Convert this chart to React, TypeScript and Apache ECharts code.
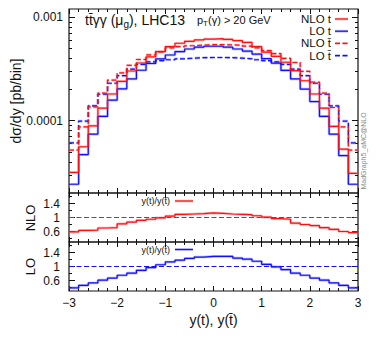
import { useEffect, useRef } from 'react';
import * as echarts from 'echarts';

// ---------- data ----------
const binEdges = [-3, -2.8, -2.6, -2.4, -2.2, -2, -1.8, -1.6, -1.4, -1.2, -1, -0.8, -0.6, -0.4, -0.2, 0,
  0.2, 0.4, 0.6, 0.8, 1, 1.2, 1.4, 1.6, 1.8, 2, 2.2, 2.4, 2.6, 2.8, 3];

const nloT = [3.16e-5, 5.6e-5, 8.9e-5, 1.32e-4, 1.81e-4, 2.4e-4, 3.02e-4, 3.61e-4, 4.13e-4, 4.65e-4,
  5.2e-4, 5.6e-4, 5.85e-4, 6.03e-4, 6.15e-4, 6.2e-4, 6.1e-4, 5.95e-4, 5.7e-4, 5.2e-4,
  4.6e-4, 4.19e-4, 3.67e-4, 3.04e-4, 2.43e-4, 1.81e-4, 1.32e-4, 8.8e-5, 5.3e-5, 3.1e-5];

const loT = [2.43e-5, 4.7e-5, 7.4e-5, 1.1e-4, 1.58e-4, 2.03e-4, 2.53e-4, 3.07e-4, 3.57e-4, 3.95e-4,
  4.31e-4, 4.65e-4, 4.93e-4, 5.13e-4, 5.24e-4, 5.24e-4, 5.13e-4, 4.93e-4, 4.7e-4, 4.4e-4,
  3.97e-4, 3.6e-4, 3.06e-4, 2.53e-4, 2.02e-4, 1.53e-4, 1.1e-4, 7.4e-5, 4.6e-5, 2.43e-5];

const nloTbar = [5.2e-5, 8.7e-5, 1.36e-4, 1.85e-4, 2.47e-4, 2.9e-4, 3.43e-4, 3.9e-4, 4.33e-4, 4.62e-4,
  5.05e-4, 5.2e-4, 5.3e-4, 5.38e-4, 5.42e-4, 5.42e-4, 5.4e-4, 5.35e-4, 5.25e-4, 5.05e-4,
  4.75e-4, 4.45e-4, 4.0e-4, 3.65e-4, 3.0e-4, 2.36e-4, 1.85e-4, 1.34e-4, 8.7e-5, 5.2e-5];

const loTbar = [6.1e-5, 9.9e-5, 1.39e-4, 1.8e-4, 2.3e-4, 2.72e-4, 3.15e-4, 3.5e-4, 3.7e-4, 3.8e-4,
  3.88e-4, 3.96e-4, 4.02e-4, 4.06e-4, 4.08e-4, 4.08e-4, 4.06e-4, 4.02e-4, 3.96e-4, 3.88e-4,
  3.8e-4, 3.7e-4, 3.5e-4, 3.15e-4, 2.72e-4, 2.3e-4, 1.8e-4, 1.39e-4, 9.9e-5, 6.1e-5];

const ratioNLO = [0.59, 0.63, 0.64, 0.70, 0.71, 0.82, 0.87, 0.92, 0.95, 0.99,
  1.04, 1.09, 1.10, 1.11, 1.13, 1.12, 1.10, 1.09, 1.08, 1.05,
  1.01, 0.97, 0.95, 0.84, 0.80, 0.77, 0.71, 0.66, 0.60, 0.57];

const ratioLO = [0.39, 0.46, 0.53, 0.61, 0.67, 0.75, 0.81, 0.89, 0.97, 1.05,
  1.13, 1.18, 1.23, 1.27, 1.29, 1.29, 1.29, 1.24, 1.21, 1.15,
  1.06, 0.99, 0.91, 0.81, 0.75, 0.67, 0.61, 0.53, 0.46, 0.39];

const ratioReference = 1;

const xRange = [-3, 3];
const topRange = [2e-5, 1.2e-3];
const topMajorTicks = [0.0001, 0.001];
const topTickLabels = ['0.0001', '0.001'];
const topMinorTicks = [3e-5, 4e-5, 5e-5, 6e-5, 7e-5, 8e-5, 9e-5, 2e-4, 3e-4, 4e-4, 5e-4, 6e-4, 7e-4, 8e-4, 9e-4];
const ratioRange = [0.3, 1.7];
const ratioMajorTicks = [0.6, 1, 1.4];
const ratioTickLabels = ['0.6', '1', '1.4'];
const ratioMinorTicks = [0.4, 0.8, 1.2, 1.6];

// ---------- styling ----------
const FONT = '"Liberation Sans", Arial, Helvetica, sans-serif';
const INK = '#111';
const RED = '#ff1010';
const BLUE = '#1010ff';
const RED_PALE = 'rgba(255,110,110,0.5)';
const BLUE_PALE = 'rgba(110,110,255,0.5)';
const DASH = [5, 2.5];

const log10 = (v: number) => Math.log10(v);
const ident = (v: number) => v;

function steps(values: number[], tf: (v: number) => number = ident) {
  return binEdges.map((e, i) => [e, tf(values[Math.min(i, values.length - 1)])]);
}

const gridBox = [
  { left: 69, top: 9, width: 289, height: 184 },
  { left: 69, top: 193, width: 289, height: 49 },
  { left: 69, top: 242, width: 289, height: 49 },
];

const tickLine = { color: INK, width: 1 };

function xAxesFor(gi: number) {
  return ['bottom', 'top'].map((pos) => ({
    type: 'value',
    gridIndex: gi,
    position: pos,
    min: xRange[0],
    max: xRange[1],
    interval: 1,
    axisLine: { show: false, onZero: false },
    axisTick: { show: true, inside: true, length: 5, lineStyle: tickLine },
    minorTick: { show: true, splitNumber: 5, length: 3, lineStyle: tickLine },
    splitLine: { show: false },
    minorSplitLine: { show: false },
    axisLabel: {
      show: gi === 2 && pos === 'bottom',
      fontSize: 12,
      fontFamily: FONT,
      color: INK,
      margin: 6,
      formatter: (v: number) => (v < 0 ? '\u2212' + String(-v) : String(v)),
    },
  }));
}

function yAxesFor(
  gi: number,
  range: number[],
  major: number[],
  labels: string[],
  minor: number[],
  tf: (v: number) => number,
  margin: number,
) {
  const base = {
    type: 'value',
    gridIndex: gi,
    min: tf(range[0]),
    max: tf(range[1]),
    splitLine: { show: false },
    axisLine: { show: false, onZero: false },
  };
  const majorT = major.map(tf);
  return ['left', 'right'].flatMap((pos) => [
    {
      ...base,
      position: pos,
      axisTick: { show: true, inside: true, length: 6, customValues: majorT, lineStyle: tickLine },
      axisLabel: {
        show: pos === 'left',
        customValues: majorT,
        fontSize: 12,
        fontFamily: FONT,
        color: INK,
        margin,
        formatter: (v: number) => {
          const k = majorT.findIndex((m) => Math.abs(m - v) < 1e-6);
          return k >= 0 ? labels[k] : '';
        },
      },
    },
    {
      ...base,
      position: pos,
      axisTick: { show: true, inside: true, length: 3, customValues: minor.map(tf), lineStyle: tickLine },
      axisLabel: { show: false },
    },
  ]);
}

function histo(name: string, data: number[][], xi: number, yi: number, color: string, pale: string, dashed: boolean) {
  const common = {
    type: 'line',
    step: 'end',
    xAxisIndex: xi,
    yAxisIndex: yi,
    data,
    symbol: 'none',
    showSymbol: false,
    silent: true,
    clip: true,
  };
  return [
    { ...common, name: name + ' band', z: 1, lineStyle: { color: pale, width: 2.6, type: dashed ? DASH : 'solid' } },
    { ...common, name, z: 3, lineStyle: { color, width: 1.2, type: dashed ? DASH : 'solid' } },
  ];
}

const refLine = [[xRange[0], ratioReference], [xRange[1], ratioReference]];

const series = [
  ...histo('LO t\u0304', steps(loTbar, log10), 0, 0, BLUE, BLUE_PALE, true),
  ...histo('NLO t\u0304', steps(nloTbar, log10), 0, 0, RED, RED_PALE, true),
  ...histo('LO t', steps(loT, log10), 0, 0, BLUE, BLUE_PALE, false),
  ...histo('NLO t', steps(nloT, log10), 0, 0, RED, RED_PALE, false),
  { type: 'line', name: 'NLO ref', xAxisIndex: 2, yAxisIndex: 4, data: refLine, symbol: 'none', silent: true, z: 2,
    lineStyle: { color: RED, width: 1.2, type: DASH } },
  ...histo('NLO ratio', steps(ratioNLO), 2, 4, RED, RED_PALE, false),
  { type: 'line', name: 'LO ref', xAxisIndex: 4, yAxisIndex: 8, data: refLine, symbol: 'none', silent: true, z: 2,
    lineStyle: { color: BLUE, width: 1.2, type: DASH } },
  ...histo('LO ratio', steps(ratioLO), 4, 8, BLUE, BLUE_PALE, false),
];

// ---------- legend & annotation graphics ----------
const legendRows = [
  { label: 'NLO t', color: RED, pale: RED_PALE, dashed: false, y: 19 },
  { label: 'LO t', color: BLUE, pale: BLUE_PALE, dashed: false, y: 31.2 },
  { label: 'NLO t\u0304', color: RED, pale: RED_PALE, dashed: true, y: 43.4 },
  { label: 'LO t\u0304', color: BLUE, pale: BLUE_PALE, dashed: true, y: 55.6 },
];

function legendItem(label: string, color: string, pale: string, dashed: boolean, y: number, textRight: number, x1: number, x2: number, fontSize: number) {
  return [
    { type: 'text', x: textRight, y, silent: true,
      style: { text: label, fontSize, lineHeight: fontSize, fontFamily: FONT, fill: INK, align: 'right', verticalAlign: 'middle' } },
    { type: 'line', silent: true, shape: { x1, y1: y, x2, y2: y },
      style: { stroke: pale, lineWidth: 2.6, lineDash: dashed ? DASH : null } },
    { type: 'line', silent: true, shape: { x1, y1: y, x2, y2: y },
      style: { stroke: color, lineWidth: 1.2, lineDash: dashed ? DASH : null } },
  ];
}

const graphics: any[] = [
  ...legendRows.flatMap((r) => legendItem(r.label, r.color, r.pale, r.dashed, r.y, 331, 335, 348, 11.5)),
  ...legendItem('y(t)/y(t\u0304)', RED, RED_PALE, false, 201, 170, 175, 193, 9),
  ...legendItem('y(t)/y(t\u0304)', BLUE, BLUE_PALE, false, 249.5, 170, 175, 193, 9),
  { type: 'text', x: 85, y: 20, silent: true,
    style: {
      text: '{a|tt\u0304\u03b3\u03b3 (\u03bc}{s|g}{a|), LHC13}',
      fill: INK, verticalAlign: 'middle', align: 'left',
      rich: {
        a: { fontSize: 14, fontFamily: FONT, lineHeight: 18, fill: INK },
        s: { fontSize: 10, fontFamily: FONT, lineHeight: 10, verticalAlign: 'bottom', fill: INK },
      },
    } },
  { type: 'text', x: 197, y: 20, silent: true,
    style: {
      text: '{a|p}{s|T}{a|(\u03b3) > 20 GeV}',
      fill: INK, verticalAlign: 'middle', align: 'left',
      rich: {
        a: { fontSize: 11, fontFamily: FONT, lineHeight: 14, fill: INK },
        s: { fontSize: 8, fontFamily: FONT, lineHeight: 8, verticalAlign: 'bottom', fill: INK },
      },
    } },
  { type: 'text', x: 16, y: 101, rotation: Math.PI / 2, silent: true,
    style: { text: 'd\u03c3/dy [pb/bin]', fontSize: 14, fontFamily: FONT, fill: INK, align: 'center', verticalAlign: 'middle' } },
  { type: 'text', x: 30, y: 218, rotation: Math.PI / 2, silent: true,
    style: { text: 'NLO', fontSize: 13, fontFamily: FONT, fill: INK, align: 'center', verticalAlign: 'middle' } },
  { type: 'text', x: 30, y: 266.5, rotation: Math.PI / 2, silent: true,
    style: { text: 'LO', fontSize: 13, fontFamily: FONT, fill: INK, align: 'center', verticalAlign: 'middle' } },
  { type: 'text', x: 213.5, y: 320, silent: true,
    style: { text: 'y(t), y(t\u0304)', fontSize: 14, fontFamily: FONT, fill: INK, align: 'center', verticalAlign: 'middle' } },
  { type: 'text', x: 363, y: 151, rotation: Math.PI / 2, silent: true,
    style: { text: 'MadGraph5_aMC@NLO', fontSize: 7, fontFamily: FONT, fill: '#8a8a8a', align: 'center', verticalAlign: 'middle' } },
];

const option: any = {
  animation: false,
  backgroundColor: '#fff',
  grid: gridBox.map((g) => ({ ...g, show: true, borderColor: INK, borderWidth: 1.2, backgroundColor: 'transparent' })),
  xAxis: [...xAxesFor(0), ...xAxesFor(1), ...xAxesFor(2)],
  yAxis: [
    ...yAxesFor(0, topRange, topMajorTicks, topTickLabels, topMinorTicks, log10, 6),
    ...yAxesFor(1, ratioRange, ratioMajorTicks, ratioTickLabels, ratioMinorTicks, ident, 9),
    ...yAxesFor(2, ratioRange, ratioMajorTicks, ratioTickLabels, ratioMinorTicks, ident, 9),
  ],
  series,
  graphic: graphics,
};

export default function App() {
  const ref = useRef<HTMLDivElement>(null);
  useEffect(() => {
    const chart = echarts.init(ref.current!, undefined, { renderer: 'svg' });
    chart.setOption(option);
    return () => chart.dispose();
  }, []);
  return (
    <div
      ref={ref}
      style={{ position: 'absolute', left: 0, top: 0, width: 382, height: 340, background: '#fff' }}
    />
  );
}
